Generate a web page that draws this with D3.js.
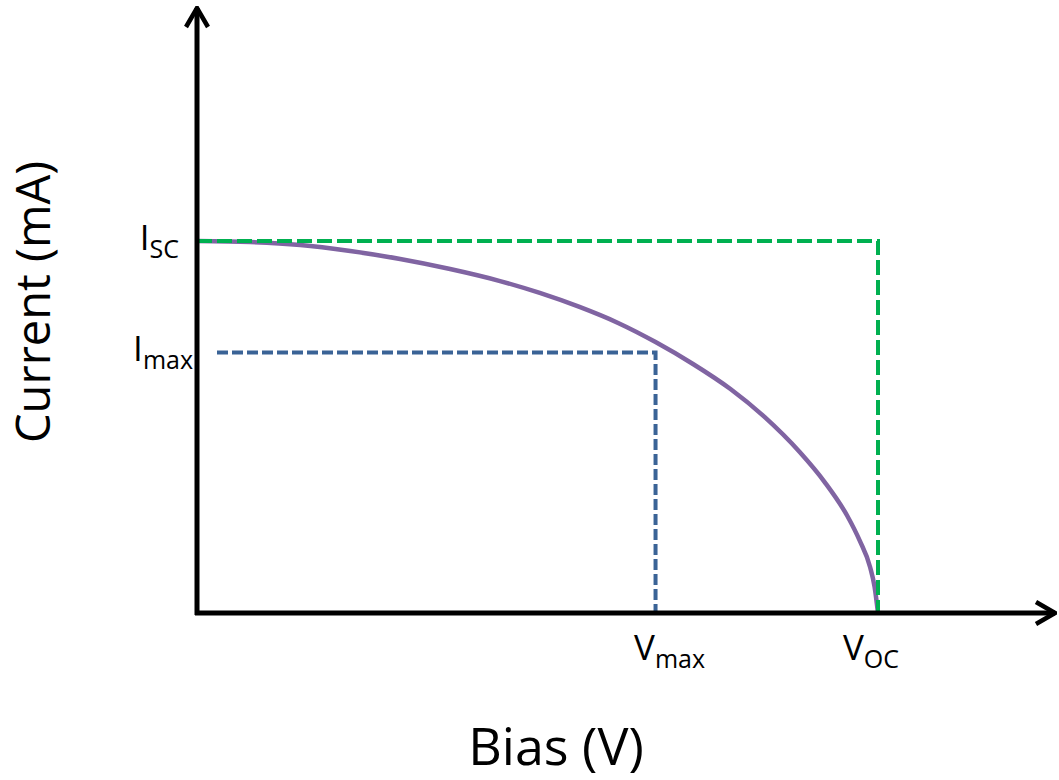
<!DOCTYPE html>
<html>
<head>
<meta charset="utf-8">
<script src="https://cdn.jsdelivr.net/npm/d3@7"></script>
<style>
  body { margin: 0; background: #fff; }
  text { font-family: "Open Sans", "Noto Sans", sans-serif; fill: #000; }
</style>
</head>
<body>
<div id="chart"></div>
<script>
// I-V curve (V in volts, I in mA)
const biasV = [0, 0.047, 0.091, 0.135, 0.179, 0.223, 0.267, 0.302, 0.337, 0.371, 0.404,
  0.437, 0.470, 0.500, 0.531, 0.553, 0.573, 0.584, 0.593, 0.597, 0.6];
const currentI = [30, 29.92, 29.68, 29.19, 28.55, 27.74, 26.77, 25.81, 24.68, 23.39, 21.85,
  20.08, 18.06, 15.81, 12.98, 10.56, 7.82, 5.81, 3.71, 2.10, 0];

// key points
const Isc = 30;
const Voc = 0.6;
const Imax = 21.0;
const Vmax = 0.404;

const xLabel = 'Bias (V)';
const yLabel = 'Current (mA)';

const width = 1059, height = 780;
const origin = { x: 197, y: 613 };

const x = d3.scaleLinear().domain([0, Voc]).range([origin.x, 878]);
const y = d3.scaleLinear().domain([0, Isc]).range([origin.y, 241]);

const svg = d3.select('#chart').append('svg')
  .attr('width', width)
  .attr('height', height);

// open chevron arrowhead
svg.append('defs').append('marker')
  .attr('id', 'arrow')
  .attr('viewBox', '-22 -13 24 26')
  .attr('refX', 0).attr('refY', 0)
  .attr('markerUnits', 'userSpaceOnUse')
  .attr('markerWidth', 24).attr('markerHeight', 26)
  .attr('orient', 'auto')
  .append('path')
  .attr('d', 'M-19,-11 L0,0 L-19,11')
  .attr('fill', 'none')
  .attr('stroke', '#000')
  .attr('stroke-width', 4.5)
  .attr('stroke-linejoin', 'miter');

const green = '#00B050', blue = '#3A6396', purple = '#8064A2';

// curve (drawn under the dashed guides)
const pts = biasV.map((v, i) => [v, currentI[i]]);
svg.append('path')
  .datum(pts)
  .attr('d', d3.line()
    .x(d => x(d[0]))
    .y(d => y(d[1]))
    .curve(d3.curveMonotoneX))
  .attr('fill', 'none')
  .attr('stroke', purple)
  .attr('stroke-width', 4.5);

// reference dashed boxes
svg.append('path')
  .attr('d', d3.line()([[x(0), y(Isc)], [x(Voc), y(Isc)], [x(Voc), y(0)]]))
  .attr('fill', 'none')
  .attr('stroke', green)
  .attr('stroke-width', 4)
  .attr('stroke-dasharray', '15 5');

svg.append('path')
  .attr('d', d3.line()([[x(0) + 20, y(Imax)], [x(Vmax), y(Imax)], [x(Vmax), y(0)]]))
  .attr('fill', 'none')
  .attr('stroke', blue)
  .attr('stroke-width', 4)
  .attr('stroke-dasharray', '11 4');

// axes
svg.append('line')
  .attr('x1', origin.x - 2).attr('y1', origin.y)
  .attr('x2', 1055).attr('y2', origin.y)
  .attr('stroke', '#000').attr('stroke-width', 5)
  .attr('marker-end', 'url(#arrow)');

svg.append('line')
  .attr('x1', origin.x).attr('y1', origin.y + 2)
  .attr('x2', origin.x).attr('y2', 8)
  .attr('stroke', '#000').attr('stroke-width', 5)
  .attr('marker-end', 'url(#arrow)');

// tick labels with subscripts
function subLabel(px, py, main, sub, anchor) {
  const t = svg.append('text')
    .attr('x', px).attr('y', py)
    .attr('text-anchor', anchor);
  t.append('tspan').attr('font-size', 35).text(main);
  t.append('tspan').attr('font-size', 25).attr('dy', 8).text(sub);
  return t;
}

subLabel(179, y(Isc) + 9, 'I', 'SC', 'end');
subLabel(193, y(Imax) + 8, 'I', 'max', 'end');
subLabel(x(Vmax) + 14, 660, 'V', 'max', 'middle');
subLabel(x(Voc) - 7, 660, 'V', 'OC', 'middle');

// axis titles
svg.append('text')
  .attr('x', 556).attr('y', 765)
  .attr('text-anchor', 'middle')
  .attr('font-size', 52)
  .text(xLabel);

svg.append('text')
  .attr('transform', 'translate(50,302) rotate(-90)')
  .attr('text-anchor', 'middle')
  .attr('font-size', 47)
  .text(yLabel);
</script>
</body>
</html>
